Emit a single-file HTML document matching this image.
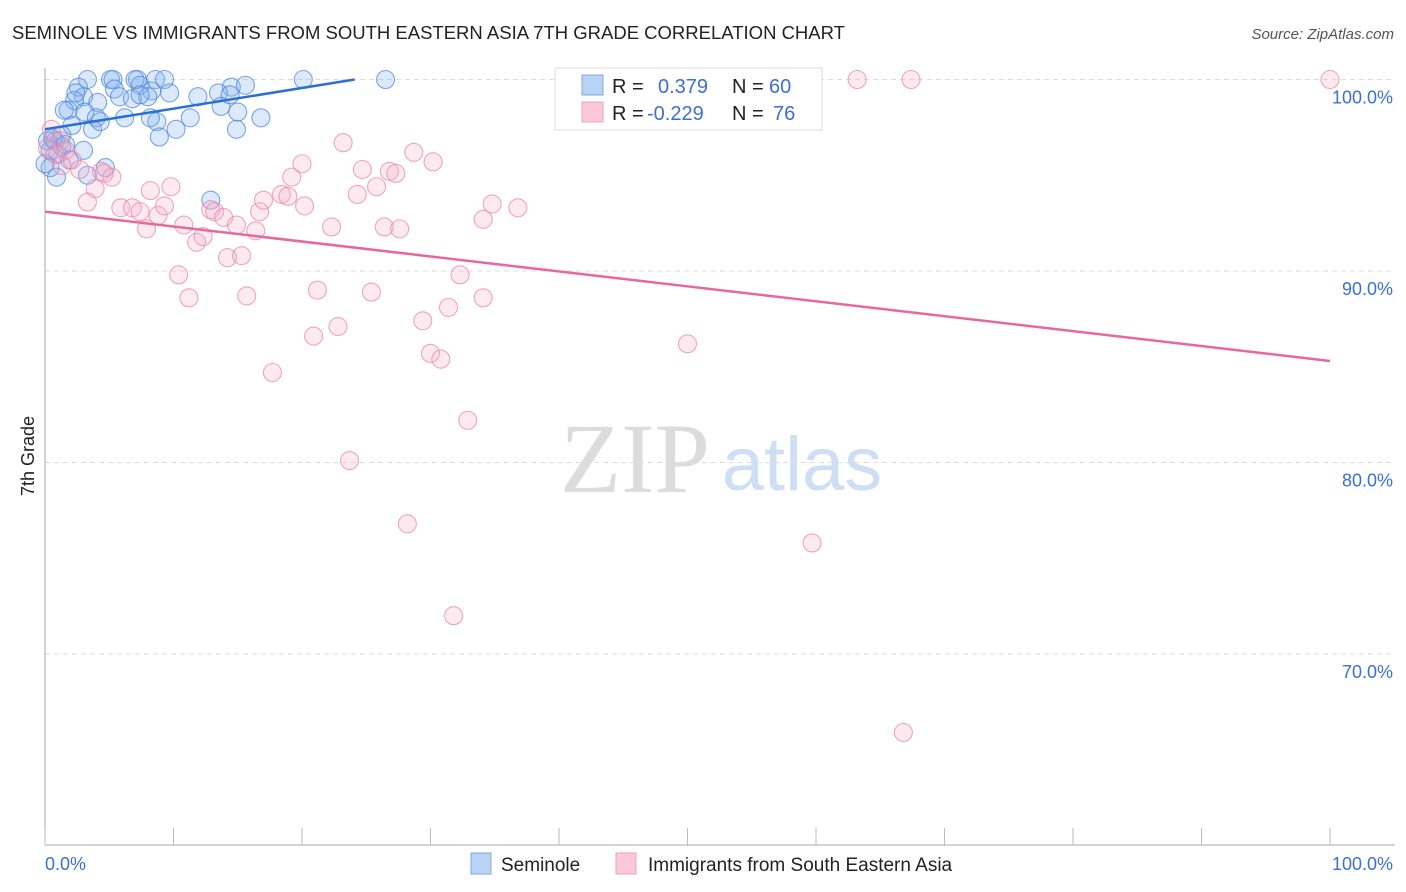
<!DOCTYPE html>
<html><head><meta charset="utf-8">
<style>
body{margin:0;background:#fff;font-family:"Liberation Sans",sans-serif;}
svg{display:block}
</style></head>
<body>
<svg id="chart" width="1406" height="892" viewBox="0 0 1406 892">
<text x="12" y="39" font-size="18.5" fill="#222">SEMINOLE VS IMMIGRANTS FROM SOUTH EASTERN ASIA 7TH GRADE CORRELATION CHART</text>
<text x="1394" y="39" font-size="15" fill="#555" text-anchor="end" font-style="italic">Source: ZipAtlas.com</text>
<g>
<text x="635" y="492" font-size="100" fill="#dcdcdc" text-anchor="middle" font-family="Liberation Serif,serif">ZIP</text>
<text x="802" y="490" font-size="76" fill="#cfdff3" text-anchor="middle">atlas</text>
</g>
<text transform="translate(34,456) rotate(-90)" font-size="18" fill="#222" text-anchor="middle">7th Grade</text>
<g id="grid"></g>
<g id="marks"></g>
<g>
<rect x="555" y="68" width="267" height="62" fill="#fff" stroke="#ddd"/>
<rect x="582" y="75" width="21" height="20" fill="#b9d3f5" stroke="#7ea9e6"/>
<rect x="582" y="102" width="21" height="20" fill="#fbc8d8" stroke="#f0a0bb"/>
<text x="612" y="93" font-size="20" fill="#222">R =</text>
<text x="658" y="93" font-size="20" fill="#3b6fd4">0.379</text>
<text x="732" y="93" font-size="20" fill="#222">N =</text>
<text x="769" y="93" font-size="20" fill="#3b6fd4">60</text>
<text x="612" y="120" font-size="20" fill="#222">R =</text>
<text x="647" y="120" font-size="20" fill="#3b6fd4">-0.229</text>
<text x="732" y="120" font-size="20" fill="#222">N =</text>
<text x="773" y="120" font-size="20" fill="#3b6fd4">76</text>
</g>
<g>
<rect x="471" y="853" width="20" height="21" fill="#b9d3f5" stroke="#7ea9e6"/>
<text x="501" y="871" font-size="19" fill="#222">Seminole</text>
<rect x="616" y="853" width="20" height="21" fill="#fbc8d8" stroke="#f0a0bb"/>
<text x="648" y="871" font-size="19" fill="#222">Immigrants from South Eastern Asia</text>
</g>
<text x="45" y="870" font-size="18" fill="#3b6fd4">0.0%</text>
<text x="1393" y="870" font-size="18" fill="#3b6fd4" text-anchor="end">100.0%</text>
</svg>
<script>
const yTicks=[100,90,80,70];
const yTickLabels=["100.0%","90.0%","80.0%","70.0%"];
const xTicks=[0,10,20,30,40,50,60,70,80,90,100];
const seminoleX=[3.3,5.1,5.3,7.2,7.0,8.6,9.3,20.1,26.5,2.6,5.4,7.4,8.3,14.5,15.6,11.9,13.5,3.0,2.3,4.1,1.8,1.5,3.1,4.0,5.8,6.8,8.0,6.2,8.7,10.2,11.3,13.7,15.0,14.9,16.8,8.9,3.7,2.1,1.3,0.2,0.8,1.3,0.4,1.0,3.0,1.9,0.4,0.9,3.3,4.7,12.9,8.2,2.4,4.3,0.6,1.6,0,9.7,7.4,14.4];
const seminoleY=[100,100,100,100,100,100,100,100,100,99.6,99.5,99.7,99.4,99.6,99.7,99.1,99.3,99.1,98.9,98.8,98.4,98.4,98.3,98.0,99.1,99.0,99.1,98.0,97.8,97.4,98.0,98.6,98.3,97.4,98.0,97.0,97.4,97.6,97.1,96.8,96.8,96.5,96.3,96.1,96.3,95.8,95.4,94.9,95.0,95.4,93.7,98.0,99.3,97.8,96.9,96.6,95.6,99.3,99.2,99.2];
const immX=[63.2,67.4,100,0.5,1.2,0.2,1.6,2.1,0.8,1.3,2.7,3.9,4.4,5.2,3.3,4.6,8.2,9.8,5.9,6.8,7.4,7.9,8.8,9.3,10.8,10.4,11.2,11.8,12.3,12.9,13.2,13.9,14.2,14.9,15.3,15.7,16.4,16.7,17.0,17.7,18.4,18.9,19.2,20.0,20.2,21.2,20.9,22.3,22.8,23.2,23.7,24.3,24.7,25.4,25.8,26.4,26.8,27.3,27.6,28.2,28.7,29.4,30.0,30.2,30.8,31.4,31.8,32.3,32.9,34.1,34.1,34.8,36.8,50.0,59.7,66.8];
const immY=[100,100,100,97.4,96.8,96.4,96.3,95.8,96.1,95.5,95.3,94.3,95.2,94.9,93.6,95.1,94.2,94.4,93.3,93.3,93.1,92.2,92.9,93.4,92.4,89.8,88.6,91.5,91.8,93.2,93.1,92.8,90.7,92.4,90.8,88.7,92.1,93.1,93.7,84.7,94.0,93.9,94.9,95.6,93.4,89.0,86.6,92.3,87.1,96.7,80.1,94.0,95.3,88.9,94.4,92.3,95.2,95.1,92.2,76.8,96.2,87.4,85.7,95.7,85.4,88.1,72.0,89.8,82.2,92.7,88.6,93.5,93.3,86.2,75.8,65.9];
const seminoleTrend=[0,97.4,24.1,100];
const immTrend=[0,93.1,100,85.3];

const NS="http://www.w3.org/2000/svg";
const xs=v=>45+v*12.85;
const ys=v=>79.5+(100-v)*19.15;
function mk(tag,attrs,parent){const e=document.createElementNS(NS,tag);for(const k in attrs)e.setAttribute(k,attrs[k]);parent.appendChild(e);return e;}
const grid=document.getElementById('grid');
const marks=document.getElementById('marks');
yTicks.forEach((t,i)=>{
  const l=mk('line',{x1:45,x2:1395,y1:ys(t),y2:ys(t),stroke:'#ddd','stroke-dasharray':'5,4'},grid);
  
  
  const tx=mk('text',{x:1393,y:ys(t)+24,'font-size':18,fill:'#3b6fd4','text-anchor':'end'},grid);
  tx.textContent=yTickLabels[i];
  
  
});
const ax=mk('line',{x1:45,x2:1395,y1:845,y2:845,stroke:'#aaa'},grid);


const ay=mk('line',{x1:45,x2:45,y1:68,y2:845,stroke:'#aaa'},grid);


xTicks.forEach(t=>{
  const l=mk('line',{x1:xs(t),x2:xs(t),y1:828,y2:845,stroke:'#bbb'},grid);
  
  
});
seminoleX.forEach((x,i)=>{
  const c=mk('circle',{cx:xs(x),cy:ys(seminoleY[i]),r:9,fill:'rgba(130,175,240,0.28)',stroke:'rgba(70,130,220,0.7)','stroke-width':1.1},marks);
  
  
});
immX.forEach((x,i)=>{
  const c=mk('circle',{cx:xs(x),cy:ys(immY[i]),r:9,fill:'rgba(248,175,200,0.28)',stroke:'rgba(232,130,165,0.7)','stroke-width':1.1},marks);
  
  
});
const t1=mk('line',{x1:xs(seminoleTrend[0]),y1:ys(seminoleTrend[1]),x2:xs(seminoleTrend[2]),y2:ys(seminoleTrend[3]),stroke:'#2a6fd6','stroke-width':2.5},marks);


const t2=mk('line',{x1:xs(immTrend[0]),y1:ys(immTrend[1]),x2:xs(immTrend[2]),y2:ys(immTrend[3]),stroke:'#e8689a','stroke-width':2.5},marks);


</script>
</body></html>
